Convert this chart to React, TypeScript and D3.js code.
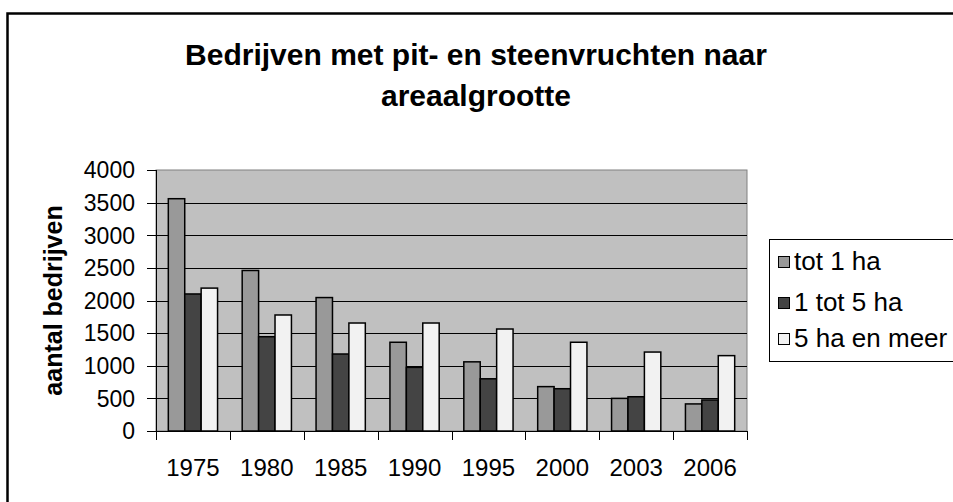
import React from "react";
import * as d3 from "d3";

const years = ["1975", "1980", "1985", "1990", "1995", "2000", "2003", "2006"];
const seriesNames = ["tot 1 ha", "1 tot 5 ha", "5 ha en meer"];
const tot1ha = [3560, 2460, 2045, 1360, 1060, 680, 500, 415];
const tot5ha = [2100, 1445, 1180, 975, 800, 648, 525, 475];
const meer5ha = [2190, 1778, 1655, 1655, 1563, 1360, 1210, 1155];
const yTicks = [0, 500, 1000, 1500, 2000, 2500, 3000, 3500, 4000];
const titleLines = ["Bedrijven met pit- en steenvruchten naar", "areaalgrootte"];
const yTitle = "aantal bedrijven";

const W = 953;
const H = 502;
const plot = { left: 156, right: 747, top: 170, bottom: 431 };
const colors = ["#999999", "#444444", "#f2f2f2"];
const FONT = "Arial, 'Liberation Sans', sans-serif";

export default function App() {
  const series = [tot1ha, tot5ha, meer5ha];
  const x = d3.scaleBand<string>().domain(years).range([plot.left, plot.right]).paddingInner(0).paddingOuter(0);
  const inner = d3
    .scaleBand<number>()
    .domain([0, 1, 2])
    .range([0, x.bandwidth()])
    .paddingInner(0)
    .paddingOuter(0.75);
  const y = d3.scaleLinear().domain([0, 4000]).range([plot.bottom, plot.top]);
  const legendRowY = [261, 302, 338];

  return (
    <svg
      width={W}
      height={H}
      style={{ position: "absolute", left: 0, top: 0, background: "#ffffff" }}
      fontFamily={FONT}
    >
      <rect x={0} y={0} width={W} height={H} fill="#ffffff" />
      {/* outer frame */}
      <rect x={7.5} y={13.5} width={W + 20} height={H + 20} fill="none" stroke="#000" strokeWidth={2.5} />

      {/* title */}
      {titleLines.map((t, i) => (
        <text
          key={t}
          x={476}
          y={65 + i * 41}
          textAnchor="middle"
          fontSize={30}
          fontWeight="bold"
          fill="#000"
        >
          {t}
        </text>
      ))}

      {/* plot area */}
      <rect
        x={plot.left}
        y={plot.top}
        width={plot.right - plot.left}
        height={plot.bottom - plot.top}
        fill="#c0c0c0"
        stroke="#808080"
        strokeWidth={1}
      />
      {yTicks
        .filter((t) => t > 0 && t < 4000)
        .map((t) => (
          <line key={t} x1={plot.left} x2={plot.right} y1={Math.round(y(t)) + 0.5} y2={Math.round(y(t)) + 0.5} stroke="#000" strokeWidth={1} />
        ))}

      {/* bars */}
      {years.map((yr, i) => (
        <g key={yr}>
          {series.map((s, j) => (
            <rect
              key={j}
              x={(x(yr) as number) + (inner(j) as number)}
              y={y(s[i])}
              width={inner.bandwidth()}
              height={plot.bottom - y(s[i])}
              fill={colors[j]}
              stroke="#000"
              strokeWidth={1.5}
            />
          ))}
        </g>
      ))}

      {/* y axis */}
      <line x1={plot.left + 0.5} x2={plot.left + 0.5} y1={plot.top} y2={plot.bottom} stroke="#000" strokeWidth={1} />
      {yTicks.map((t) => (
        <g key={t}>
          <line x1={plot.left - 9} x2={plot.left} y1={Math.round(y(t)) + 0.5} y2={Math.round(y(t)) + 0.5} stroke="#000" strokeWidth={1} />
          <text x={plot.left - 21} y={y(t)} dy="0.36em" textAnchor="end" fontSize={23} fill="#000">
            {t}
          </text>
        </g>
      ))}

      {/* x axis */}
      <line x1={plot.left} x2={plot.right} y1={plot.bottom + 0.5} y2={plot.bottom + 0.5} stroke="#000" strokeWidth={1} />
      {[...years.map((yr) => x(yr) as number), plot.right].map((px, i) => (
        <line key={i} x1={Math.round(px) + 0.5} x2={Math.round(px) + 0.5} y1={plot.bottom} y2={plot.bottom + 9} stroke="#000" strokeWidth={1} />
      ))}
      {years.map((yr) => (
        <text
          key={yr}
          x={(x(yr) as number) + x.bandwidth() / 2}
          y={476}
          textAnchor="middle"
          fontSize={24}
          fill="#000"
        >
          {yr}
        </text>
      ))}

      {/* y title */}
      <text
        transform={`translate(62, ${(plot.top + plot.bottom) / 2}) rotate(-90)`}
        textAnchor="middle"
        fontSize={25}
        fontWeight="bold"
        fill="#000"
      >
        {yTitle}
      </text>

      {/* legend */}
      <rect x={769.5} y={239.5} width={220} height={122} fill="#ffffff" stroke="#000" strokeWidth={1} />
      {seriesNames.map((n, j) => (
        <g key={n}>
          <rect x={778.5} y={legendRowY[j] - 4.5} width={11} height={11} fill={colors[j]} stroke="#000" strokeWidth={1} />
          <text x={794} y={legendRowY[j]} dy="0.36em" fontSize={26} fill="#000">
            {n}
          </text>
        </g>
      ))}
    </svg>
  );
}
